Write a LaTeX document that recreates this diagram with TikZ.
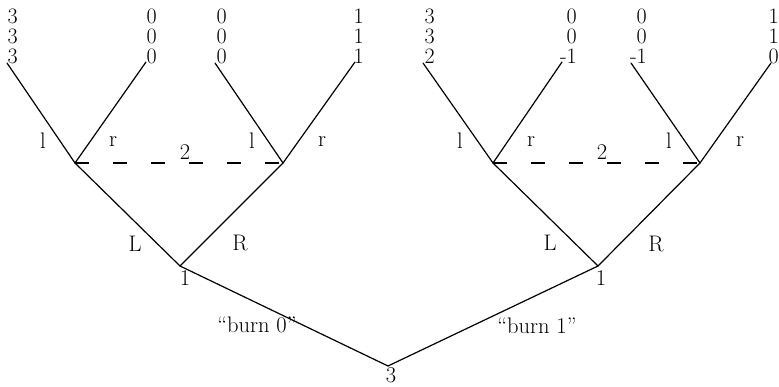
\documentclass[tikz,border=0pt]{standalone}
\usepackage{fontspec}
\begin{document}
\begin{tikzpicture}[x=1pt,y=-1pt,
  edge/.style={line width=1.2pt, line cap=round},
  infoset/.style={line width=1.2pt, dash pattern=on 14pt off 24pt},
  lab/.style={inner sep=0pt, font=\fontsize{22.5}{20}\selectfont},
  pay/.style={inner sep=0pt, anchor=base east, font=\fontsize{22}{20}\selectfont}]
\useasboundingbox (0,0) rectangle (779,387);
% decision nodes
\coordinate (root) at (388,366);
\coordinate (A) at (180,266);
\coordinate (B) at (598,266);
\coordinate (AL) at (75,163);
\coordinate (AR) at (283,163);
\coordinate (BL) at (493,163);
\coordinate (BR) at (700,163);
% leaves
\coordinate (l1) at (7,63);
\coordinate (l2) at (146,62);
\coordinate (l3) at (215,63);
\coordinate (l4) at (355,62);
\coordinate (l5) at (423,63);
\coordinate (l6) at (562,62);
\coordinate (l7) at (631,63);
\coordinate (l8) at (771,63);
% edges
\draw[edge] (A) -- (root) -- (B);
\draw[edge] (AL) -- (A) -- (AR);
\draw[edge] (BL) -- (B) -- (BR);
\draw[edge] (l1) -- (AL) -- (l2);
\draw[edge] (l3) -- (AR) -- (l4);
\draw[edge] (l5) -- (BL) -- (l6);
\draw[edge] (l7) -- (BR) -- (l8);
\draw[infoset] (AL) -- (AR);
\draw[infoset] (BL) -- (BR);
% payoffs
\foreach \n/\x/\a/\b/\c in {p1/18/3/3/3, p2/157/0/0/0, p3/227/0/0/0, p4/364/1/1/1,
                            p5/435/3/3/2, p6/577/0/0/-1, p7/647/0/0/-1, p8/779/1/1/0}{
  \node[pay] (\n a) at (\x,24) {\a};
  \node[pay] (\n b) at (\x,44) {\b};
  \node[pay] (\n c) at (\x,64) {\c};
}
% action labels
\node[lab] (la1) at (43,141) {l};
\node[lab] (ra1) at (113,142) {r};
\node[lab] (two1) at (185,152) {2};
\node[lab] (la2) at (252,141) {l};
\node[lab] (ra2) at (322,142) {r};
\node[lab] (lb1) at (460,141) {l};
\node[lab] (rb1) at (531,142) {r};
\node[lab] (two2) at (602,152) {2};
\node[lab] (lb2) at (669,141) {l};
\node[lab] (rb2) at (740,142) {r};
\node[lab] (LA) at (135,244) {L};
\node[lab] (RA) at (240,243) {R};
\node[lab] (LB) at (550,243) {L};
\node[lab] (RB) at (656,244) {R};
% player labels
\node[lab] (pA) at (185,278) {1};
\node[lab] (pB) at (601,278) {1};
\node[lab] (pR) at (391,375) {3};
% burn labels
\node[lab] (burn0) at (257,325) {``burn 0''};
\node[lab] (burn1) at (537,326) {``burn 1''};
\end{tikzpicture}
\end{document}
